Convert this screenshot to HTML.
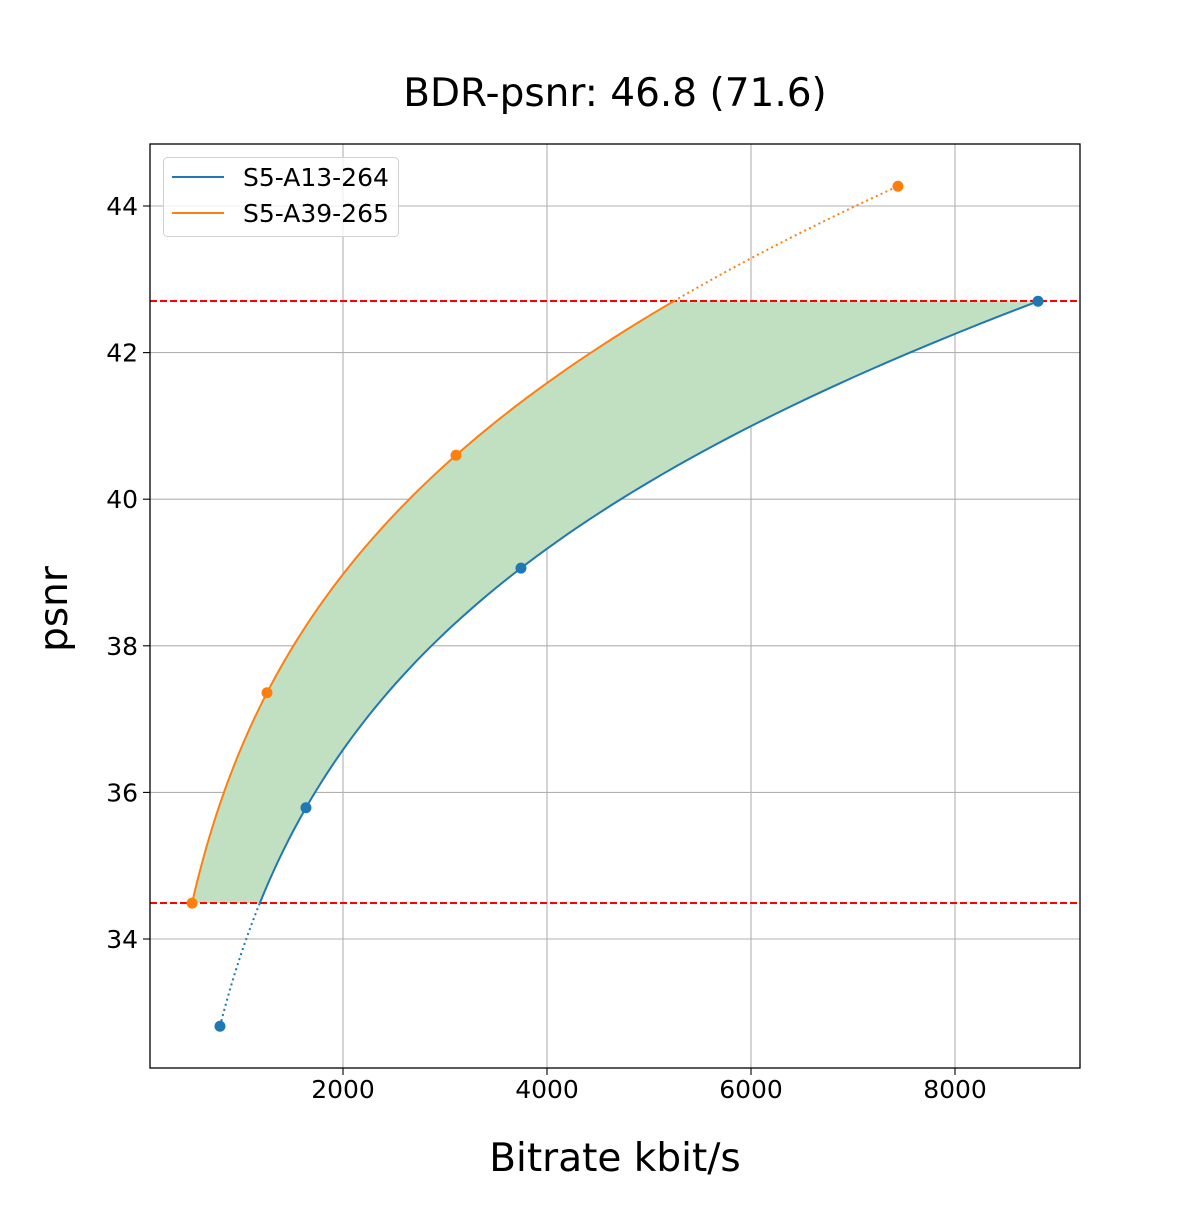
<!DOCTYPE html>
<html><head><meta charset="utf-8"><style>
html,body{margin:0;padding:0;background:#fff;}
text{font-family:"DejaVu Sans","Liberation Sans",sans-serif;}
</style></head><body>
<svg id="s" width="1200" height="1200" viewBox="0 0 1200 1200" xmlns="http://www.w3.org/2000/svg">
<rect width="1200" height="1200" fill="#fff"/>
<g id="grid" stroke="#b0b0b0" stroke-width="1.1"></g>
<path id="fill" fill="#c1dfc1" stroke="none"/>
<line x1="150" y1="301" x2="1080" y2="301" stroke="#ff0000" stroke-width="2" stroke-dasharray="7,3"/>
<line x1="150" y1="903" x2="1080" y2="903" stroke="#ff0000" stroke-width="2" stroke-dasharray="7,3"/>
<path id="bs" fill="none" stroke="#1f77b4" stroke-width="2"/>
<path id="bd" fill="none" stroke="#1f77b4" stroke-width="2" stroke-dasharray="2,3.3"/>
<path id="os" fill="none" stroke="#ff7f0e" stroke-width="2"/>
<path id="od" fill="none" stroke="#ff7f0e" stroke-width="2" stroke-dasharray="2,3.3"/>
<g id="pts"></g>
<rect x="150" y="144" width="930" height="924" fill="none" stroke="#000" stroke-width="1.3"/>
<g id="ticks" stroke="#000" stroke-width="1.1"></g>
<g id="lab" font-size="25" fill="#000"></g>
<rect x="163.5" y="157.5" width="235" height="79" rx="4" fill="#fff" fill-opacity="0.8" stroke="#d0d0d0"/>
<line x1="172" y1="177" x2="224" y2="177" stroke="#1f77b4" stroke-width="2"/>
<line x1="172" y1="213" x2="224" y2="213" stroke="#ff7f0e" stroke-width="2"/>
<text x="243" y="186" font-size="25">S5-A13-264</text>
<text x="243" y="222" font-size="25">S5-A39-265</text>
<text x="615" y="106" font-size="39" text-anchor="middle">BDR-psnr: 46.8 (71.6)</text>
<text x="615" y="1171" font-size="39" text-anchor="middle">Bitrate kbit/s</text>
<text transform="translate(67,609) rotate(-90)" font-size="39" text-anchor="middle">psnr</text>
</svg>
<script>
var NS="http://www.w3.org/2000/svg";
function X(r){return 139+r*0.102;}
function Y(p){return 939-(p-34)*73.3;}
function el(p,t,a){var e=document.createElementNS(NS,t);for(var k in a)e.setAttribute(k,a[k]);document.getElementById(p).appendChild(e);return e;}
[2000,4000,6000,8000].forEach(function(v){var x=X(v);
el("grid","line",{x1:x,y1:144,x2:x,y2:1068});
el("ticks","line",{x1:x,y1:1068,x2:x,y2:1075});
var t=el("lab","text",{x:x,y:1098,"text-anchor":"middle"});t.textContent=v;});
[34,36,38,40,42,44].forEach(function(v){var y=Y(v);
el("grid","line",{x1:150,y1:y,x2:1080,y2:y});
el("ticks","line",{x1:143,y1:y,x2:150,y2:y});
var t=el("lab","text",{x:138,y:y+9,"text-anchor":"end"});t.textContent=v;});
var B={r:[794,1637,3745,8814],p:[32.81,35.79,39.06,42.70],c:"#1f77b4"};
var O={r:[520,1255,3108,7441],p:[34.49,37.36,40.60,44.27],c:"#ff7f0e"};
function f(S,q){var s=0;for(var i=0;i<4;i++){var l=Math.log(S.r[i]);for(var j=0;j<4;j++)if(j!=i)l*=(q-S.p[j])/(S.p[i]-S.p[j]);s+=l;}return Math.exp(s);}
function seg(S,a,b){var d="",n=80;for(var i=0;i<=n;i++){var q=a+(b-a)*i/n;d+=(i?"L":"M")+X(f(S,q)).toFixed(2)+" "+Y(q).toFixed(2);}return d;}
var lo=34.49,hi=42.70;
document.getElementById("bs").setAttribute("d",seg(B,lo,hi));
document.getElementById("bd").setAttribute("d",seg(B,B.p[0],lo));
document.getElementById("os").setAttribute("d",seg(O,lo,hi));
document.getElementById("od").setAttribute("d",seg(O,hi,O.p[3]));
var fd=seg(O,lo,hi);var n=80,bp="";for(var i=n;i>=0;i--){var q=lo+(hi-lo)*i/n;bp+="L"+X(f(B,q)).toFixed(2)+" "+Y(q).toFixed(2);}
document.getElementById("fill").setAttribute("d",fd+bp+"Z");
[B,O].forEach(function(S){for(var i=0;i<4;i++)el("pts","circle",{cx:X(S.r[i]),cy:Y(S.p[i]),r:5.5,fill:S.c});});
</script>
</body></html>
